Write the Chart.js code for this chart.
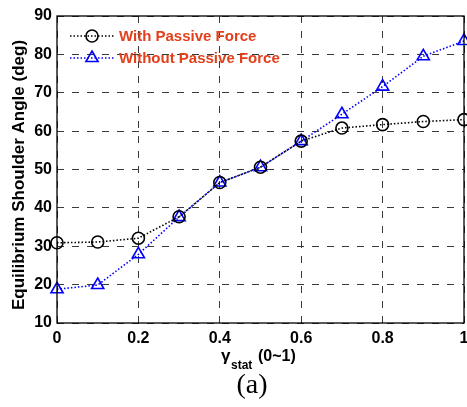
<!DOCTYPE html>
<html>
<head>
<meta charset="utf-8">
<script src="https://cdn.jsdelivr.net/npm/chart.js@4.4.1/dist/chart.umd.min.js"></script>
<style>
  html, body { margin: 0; padding: 0; background: #fff; overflow: hidden; }
  #wrap { width: 490px; height: 407px; position: relative; }
</style>
</head>
<body>
<div id="wrap"><canvas id="myChart"></canvas></div>
<script>
const gammaStat = [0, 0.1, 0.2, 0.3, 0.4, 0.5, 0.6, 0.7, 0.8, 0.9, 1.0];
const withPassive = [30.9, 31.1, 32.1, 37.7, 46.6, 50.6, 57.4, 60.8, 61.7, 62.5, 63.0];
const withoutPassive = [18.8, 19.9, 27.9, 37.6, 46.6, 50.6, 57.4, 64.4, 71.6, 79.5, 83.5];
const xTicks = [0, 0.2, 0.4, 0.6, 0.8, 1];
const yTicks = [10, 20, 30, 40, 50, 60, 70, 80, 90];
const seriesLabels = ['With Passive Force', 'Without Passive Force'];

const toPoints = (ys) => gammaStat.map((g, i) => ({ x: g, y: ys[i] }));

const sansBold = (size) => 'bold ' + size + 'px "Liberation Sans", Arial, sans-serif';

// box, in-plot legend and axis titles (subscript needs manual drawing)
const decorations = {
  id: 'decorations',
  afterDraw(chart) {
    const c = chart.ctx;
    const a = chart.chartArea;
    c.save();
    c.strokeStyle = '#000';
    c.lineWidth = 1.3;
    c.setLineDash([]);
    c.strokeRect(a.left, a.top, a.right - a.left, a.bottom - a.top);

    // legend
    const rows = [
      { y: a.top + 20, color: '#000', style: 'circle', r: 6 },
      { y: a.top + 42, color: '#0000ff', style: 'triangle', r: 7 },
    ];
    rows.forEach((row, i) => {
      c.strokeStyle = row.color;
      c.lineWidth = 1.6;
      c.setLineDash([1.5, 2]);
      c.beginPath();
      c.moveTo(a.left + 13, row.y);
      c.lineTo(a.left + 57, row.y);
      c.stroke();
      c.setLineDash([]);
      c.fillStyle = 'rgba(0,0,0,0)';
      Chart.helpers.drawPoint(c, { pointStyle: row.style, radius: row.r, borderWidth: 1.6, rotation: 0 }, a.left + 35, row.y);
      c.fillStyle = '#e2401c';
      c.font = sansBold(15);
      c.textBaseline = 'middle';
      c.textAlign = 'left';
      c.fillText(seriesLabels[i], a.left + 62, row.y + 1);
    });

    // y title
    c.fillStyle = '#000';
    c.save();
    c.translate(19, 175);
    c.rotate(-Math.PI / 2);
    c.font = sansBold(17);
    c.textAlign = 'center';
    c.textBaseline = 'middle';
    c.fillText('Equilibrium Shoulder Angle (deg)', 0, 0);
    c.restore();

    // x title
    c.textBaseline = 'alphabetic';
    c.textAlign = 'left';
    c.font = sansBold(17);
    c.fillText('γ', 221, 361);
    c.font = sansBold(12);
    c.fillText('stat', 231, 369);
    c.font = sansBold(16);
    c.fillText('(0~1)', 258, 361);

    c.font = '28px "Liberation Serif", "Times New Roman", serif';
    c.textAlign = 'center';
    c.fillText('(a)', 252, 393);
    c.restore();
  }
};

const ctx = document.getElementById('myChart').getContext('2d');
const myChart = new Chart(ctx, {
  type: 'scatter',
  data: {
    datasets: [
      {
        label: seriesLabels[0],
        data: toPoints(withPassive),
        showLine: true,
        borderColor: '#000',
        backgroundColor: 'rgba(0,0,0,0)',
        borderWidth: 1.6,
        borderDash: [1.5, 2],
        pointStyle: 'circle',
        pointRadius: 6,
        pointBorderWidth: 1.6,
        pointBorderColor: '#000',
        clip: false,
      },
      {
        label: seriesLabels[1],
        data: toPoints(withoutPassive),
        showLine: true,
        borderColor: '#0000ff',
        backgroundColor: 'rgba(0,0,0,0)',
        borderWidth: 1.6,
        borderDash: [1.5, 2],
        pointStyle: 'triangle',
        pointRadius: 7,
        pointBorderWidth: 1.6,
        pointBorderColor: '#0000ff',
        clip: false,
      },
    ],
  },
  options: {
    responsive: true,
    maintainAspectRatio: false,
    animation: false,
    layout: { padding: { top: 16, right: 26, bottom: 0, left: 0 } },
    plugins: {
      legend: { display: false },
      tooltip: { enabled: false },
    },
    scales: {
      x: {
        type: 'linear',
        min: 0,
        max: 1,
        afterFit: (scale) => { scale.height = 84; },
        afterBuildTicks: (scale) => { scale.ticks = xTicks.map((v) => ({ value: v })); },
        grid: { color: '#3a3a3a', lineWidth: 1, drawTicks: false },
        border: { display: false, dash: [7, 8] },
        ticks: {
          color: '#000',
          padding: 6,
          maxRotation: 0,
          font: { family: '"Liberation Sans", Arial', weight: 'bold', size: 16 },
          callback: (v) => String(Math.round(v * 10) / 10),
        },
      },
      y: {
        min: 10,
        max: 90,
        afterFit: (scale) => { scale.width = 57; },
        afterBuildTicks: (scale) => { scale.ticks = yTicks.map((v) => ({ value: v })); },
        grid: { color: '#3a3a3a', lineWidth: 1, drawTicks: false },
        border: { display: false, dash: [7, 8] },
        ticks: {
          color: '#000',
          padding: 5,
          font: { family: '"Liberation Sans", Arial', weight: 'bold', size: 16 },
        },
      },
    },
  },
  plugins: [decorations],
});
</script>
</body>
</html>
